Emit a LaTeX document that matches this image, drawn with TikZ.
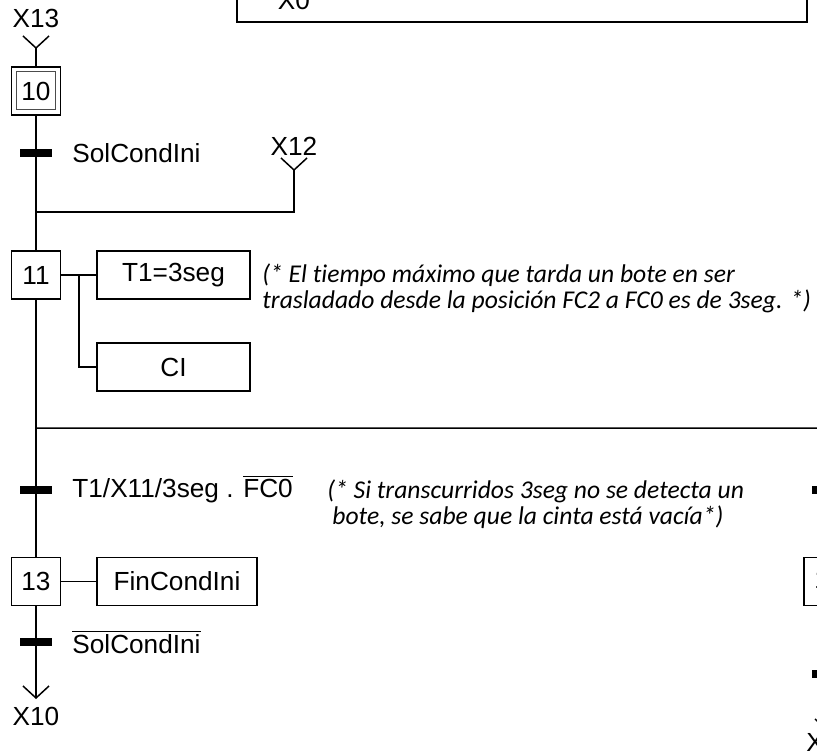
\documentclass[tikz,border=0pt]{standalone}
\usepackage{fontspec}
\setmainfont{Liberation Sans}
\newfontfamily\notefont[Ligatures=NoCommon]{Carlito}
\usepackage{tikz}
\usetikzlibrary{positioning,calc}
\tikzset{
  stepbox/.style={draw,line width=0.8pt,minimum width=24.5pt,minimum height=24pt,inner sep=0pt},
  actbox/.style={draw,line width=0.8pt,minimum width=76.5pt,minimum height=24pt,inner sep=0pt},
  bar/.style={fill=black,minimum width=16pt,minimum height=4pt,inner sep=0pt},
  flow/.style={line width=0.75pt},
  cond/.style={anchor=west,inner sep=0pt},
  note/.style={anchor=west,inner sep=0pt,align=left,font=\notefont\itshape\fontsize{12.8}{13}\selectfont},
}
\newcommand\grafvee[1]{\draw[flow] ($(#1)+(-13,-12)$) -- (#1) -- ($(#1)+(13,-12)$);}

\begin{document}
\begin{tikzpicture}[x=0.5pt,y=-0.5pt,font=\fontsize{13.1}{15}\selectfont]
\useasboundingbox (0,0) rectangle (817,754);
\clip (0,0) rectangle (817,754);
% box at the top, mostly outside
\draw[line width=1pt] (237,-80) rectangle (807,22);
\node (x0) at (294,0) {X0};
% steps
\node[stepbox] (s10) at (36,91) {};
\node[stepbox,minimum width=19.5pt,minimum height=19pt,line width=0.5pt,draw=black!70] (s10i) at (s10) {10};
\node[stepbox] (s11) at (36,275) {11};
\node[stepbox] (s13) at (36,581.5) {13};
\node[stepbox,anchor=west] (sr) at (803,581.5) {};
\node[anchor=west,inner sep=0pt] (srn) at (814,579) {1};
% actions
\node[actbox] (a11t) at (173.5,275) {T1=3seg};
\node[actbox] (a11c) at (173.5,367) {CI};
\node[actbox,minimum width=80pt] (a13) at (177,581.5) {FinCondIni};
% coordinates
\coordinate (in13) at (36,48);
\coordinate (in12) at (294,170);
\coordinate (c12) at (294,212);
\coordinate (join) at (36,212);
\coordinate (split) at (36,428);
\coordinate (splitr) at (828,428);
\coordinate (jn11) at (79,275);
\coordinate (out10) at (36,698);
\coordinate (outr) at (828,731);
% links
\draw[flow] (in13) -- (s10.north);
\draw[flow] (s10.south) -- (join) -- (s11.north);
\draw[flow] (in12) -- (c12) -- (join);
\draw[flow] (s11.south) -- (split) -- (s13.north);
\draw[flow] (s13.south) -- (out10);
\draw[flow] (split) -- (splitr) -- (sr.north);
\draw[flow] (sr.south) -- (outr);
\draw[flow] (s11.east) -- (a11t.west);
\draw[flow] (jn11) |- (a11c.west);
\draw[flow] (s13.east) -- (a13.west);
\grafvee{in13}
\grafvee{in12}
\grafvee{out10}
\grafvee{outr}
% transitions
\node[bar] (t10) at (36,153) {};
\node[bar] (t11) at (36,490) {};
\node[bar] (t13) at (36,642) {};
\node[bar] (tr1) at (828,490) {};
\node[bar] (tr2) at (828,674) {};
% texts
\node (x13) at (36,18) {X13};
\node (x12) at (294,146) {X12};
\node (x10) at (36,716) {X10};
\node[anchor=west,inner sep=0pt] (xr) at (806,742) {X};
\node[cond] (c10) at (72,153) {SolCondIni};
\node[cond] (c11) at (72,489) {T1/X11/3seg . $\overline{\mbox{FC0}}$};
\node[cond] (c13) at (72,642) {$\overline{\mbox{SolCondIni}}$};
\node[note] (n11) at (262,288) {(* El tiempo máximo que tarda un bote en ser\\trasladado desde la posición FC2 a FC0 es de 3seg. *)};
\node[note] (n13) at (327,504) {(* Si transcurridos 3seg no se detecta un\\\hspace*{2.5pt}bote, se sabe que la cinta está vacía*)};
\end{tikzpicture}
\end{document}
